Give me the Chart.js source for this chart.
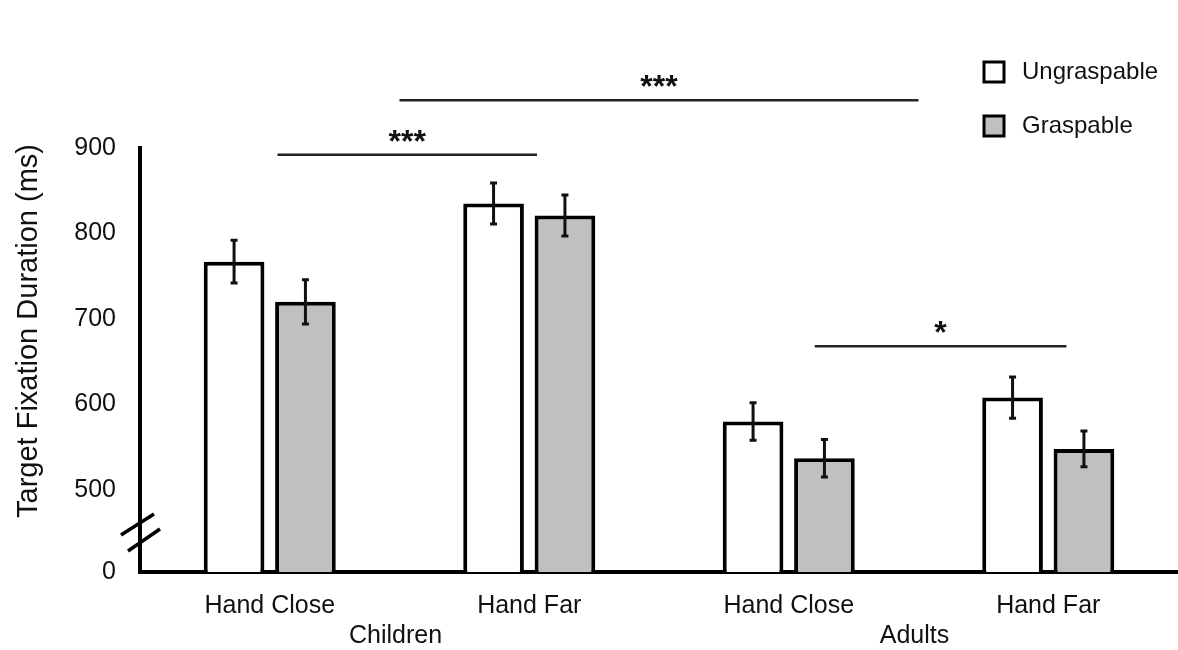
<!DOCTYPE html>
<html>
<head>
<meta charset="utf-8">
<script src="https://cdn.jsdelivr.net/npm/chart.js@4.4.1/dist/chart.umd.min.js"></script>
<style>
  html, body { margin: 0; padding: 0; background: #ffffff; }
  #wrap { width: 1178px; height: 650px; position: relative; }
</style>
</head>
<body>
<div id="wrap"><canvas id="chart" width="1178" height="650"></canvas></div>
<script>
// Conditions along the x axis and the age group each pair belongs to
const conditions = ['Hand Close', 'Hand Far', 'Hand Close', 'Hand Far'];
const groups = ['Children', 'Adults'];
const groupSpans = [[0, 1], [2, 3]];

// Mean target fixation durations (ms) and their error margins
const ungraspable = [767, 835, 580, 608];
const ungraspableErr = [25, 24, 22, 24];
const graspable = [720, 821, 537, 548];
const graspableErr = [26, 24, 22, 21];

// Broken axis: the floor stands in for 0, then the scale runs 500-900
const axisFloor = 404;
const axisTicks = [500, 600, 700, 800, 900];
const yTitle = 'Target Fixation Duration (ms)';

// Significance brackets: category positions, height (ms) and mark
const bracketFrom = [0.03, 0.5, 2.1];
const bracketTo = [1.03, 2.5, 3.07];
const bracketValue = [892, 956, 668];
const bracketMark = ['***', '***', '*'];

const FONT = '"Liberation Sans", Arial, Helvetica, sans-serif';
const INK = '#111111';

const errors = [ungraspableErr, graspableErr];

const overlay = {
  id: 'overlay',
  afterDatasetsDraw(chart) {
    const ctx = chart.ctx;
    const y = chart.scales.y;
    ctx.save();
    ctx.strokeStyle = INK;
    ctx.lineWidth = 3;
    chart.data.datasets.forEach((ds, di) => {
      const meta = chart.getDatasetMeta(di);
      meta.data.forEach((bar, i) => {
        const v = ds.data[i];
        const e = errors[di][i];
        const yt = y.getPixelForValue(v + e);
        const yb = y.getPixelForValue(v - e);
        ctx.beginPath();
        ctx.moveTo(bar.x, yt); ctx.lineTo(bar.x, yb);
        ctx.moveTo(bar.x - 3.5, yt); ctx.lineTo(bar.x + 3.5, yt);
        ctx.moveTo(bar.x - 3.5, yb); ctx.lineTo(bar.x + 3.5, yb);
        ctx.stroke();
      });
    });
    ctx.restore();
  },
  afterDraw(chart) {
    const ctx = chart.ctx;
    const x = chart.scales.x;
    const y = chart.scales.y;
    const area = chart.chartArea;
    ctx.save();

    // Vertical axis title, set a little above the axis middle
    ctx.save();
    ctx.translate(29, 331);
    ctx.rotate(-Math.PI / 2);
    ctx.fillStyle = INK;
    ctx.font = '29px ' + FONT;
    ctx.textAlign = 'center';
    ctx.textBaseline = 'middle';
    ctx.fillText(yTitle, 0, 0);
    ctx.restore();

    // Significance brackets
    ctx.strokeStyle = '#222222';
    ctx.lineWidth = 2.5;
    ctx.fillStyle = INK;
    ctx.font = 'bold 32px ' + FONT;
    ctx.textAlign = 'center';
    ctx.textBaseline = 'alphabetic';
    bracketValue.forEach((v, k) => {
      const x0 = x.getPixelForValue(bracketFrom[k]);
      const x1 = x.getPixelForValue(bracketTo[k]);
      const py = y.getPixelForValue(v);
      ctx.beginPath();
      ctx.moveTo(x0, py); ctx.lineTo(x1, py);
      ctx.stroke();
      ctx.fillText(bracketMark[k], (x0 + x1) / 2, py - 3);
    });

    // Axis break marks
    const bx = area.left;
    const by = (y.getPixelForValue(axisFloor) + y.getPixelForValue(500)) / 2;
    ctx.strokeStyle = '#000000';
    ctx.lineWidth = 3.5;
    ctx.beginPath();
    ctx.moveTo(bx - 19, by + 4); ctx.lineTo(bx + 14, by - 17);
    ctx.moveTo(bx - 12, by + 20); ctx.lineTo(bx + 20, by - 2);
    ctx.stroke();

    // Age group labels under each pair of conditions
    ctx.fillStyle = INK;
    ctx.font = '25px ' + FONT;
    ctx.textAlign = 'center';
    ctx.textBaseline = 'middle';
    groups.forEach((g, k) => {
      const cx = (x.getPixelForValue(groupSpans[k][0]) + x.getPixelForValue(groupSpans[k][1])) / 2;
      ctx.fillText(g, cx - 4, 636);
    });

    // Legend
    const lx = 984, ly = [72, 126];
    chart.data.datasets.forEach((ds, di) => {
      ctx.fillStyle = ds.backgroundColor;
      ctx.fillRect(lx, ly[di] - 10, 20, 20);
      ctx.strokeStyle = '#000000';
      ctx.lineWidth = 3;
      ctx.strokeRect(lx, ly[di] - 10, 20, 20);
      ctx.fillStyle = INK;
      ctx.textAlign = 'left';
      ctx.font = '24px ' + FONT;
      ctx.fillText(ds.label, 1022, ly[di]);
    });
    ctx.restore();
  }
};

new Chart(document.getElementById('chart'), {
  type: 'bar',
  data: {
    labels: conditions,
    datasets: [
      { label: 'Ungraspable', data: ungraspable, backgroundColor: '#ffffff',
        borderColor: '#000000', borderWidth: 4 },
      { label: 'Graspable', data: graspable, backgroundColor: '#c0c0c0',
        borderColor: '#000000', borderWidth: 4 }
    ]
  },
  options: {
    responsive: false,
    animation: false,
    devicePixelRatio: 1,
    categoryPercentage: 0.55,
    barPercentage: 0.85,
    layout: { padding: { top: 148, left: 6, right: 0, bottom: 32 } },
    plugins: { legend: { display: false }, tooltip: { enabled: false } },
    scales: {
      x: {
        grid: { display: false, drawTicks: false },
        border: { display: true, color: '#000000', width: 4 },
        ticks: { color: INK, font: { family: FONT, size: 25 }, padding: 19, maxRotation: 0 },
        afterFit(scale) { scale.height = 46; }
      },
      y: {
        min: axisFloor,
        max: 900,
        grid: { display: false, drawTicks: false },
        border: { display: true, color: '#000000', width: 4 },
        afterBuildTicks(scale) {
          scale.ticks = [axisFloor].concat(axisTicks).map(v => ({ value: v }));
        },
        ticks: {
          color: INK,
          font: { family: FONT, size: 25 },
          padding: 24,
          callback: (v) => (v === axisFloor ? '0' : String(v))
        },
        afterFit(scale) { scale.width = 134; }
      }
    }
  },
  plugins: [overlay]
});
</script>
</body>
</html>
